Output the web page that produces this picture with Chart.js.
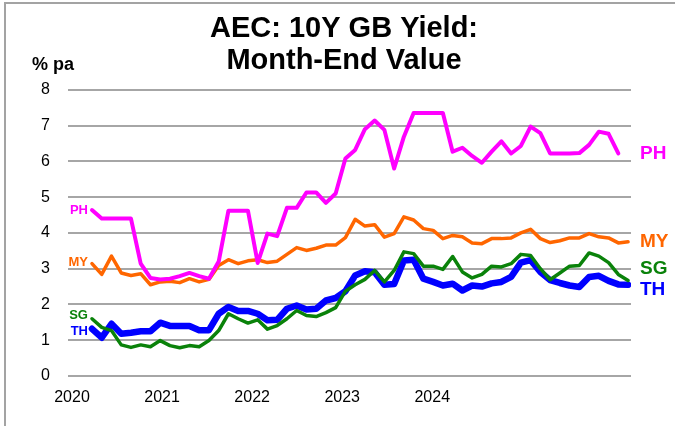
<!DOCTYPE html>
<html lang="en">
<head>
    <meta charset="UTF-8">
    <title>AEC: 10Y GB Yield</title>
    <script src="https://cdn.jsdelivr.net/npm/chart.js@4.4.0/dist/chart.umd.min.js"></script>
    <style>
        html, body {
            margin: 0;
            padding: 0;
            background: #fff;
        }
        .wrap {
            position: relative;
            width: 676px;
            height: 426px;
        }
        .frame {
            position: absolute;
            left: 4px;
            top: 2px;
            width: 669px;
            height: 430px;
            border-left: 2px solid #a3a3a3;
            border-top: 2px solid #a3a3a3;
            pointer-events: none;
        }
    </style>
</head>
<body>
    <div class="wrap">
        <canvas id="yieldChart" width="676" height="426"></canvas>
        <div class="frame"></div>
    </div>

    <script>
        // month-end values, Jan 2020 onwards (PH one month shorter)
        const yearLabels = ["2020", "2021", "2022", "2023", "2024"];

        const ph = [4.64, 4.40, 4.40, 4.40, 4.40, 3.14, 2.74, 2.70, 2.72, 2.79,
                    2.88, 2.79, 2.72, 3.20, 4.62, 4.62, 4.62, 3.16, 3.98, 3.91,
                    4.70, 4.70, 5.13, 5.13, 4.84, 5.10, 6.08, 6.32, 6.90, 7.14,
                    6.88, 5.80, 6.69, 7.35, 7.35, 7.35, 7.35, 6.27, 6.38, 6.15,
                    5.96, 6.27, 6.56, 6.22, 6.43, 6.97, 6.79, 6.22, 6.22, 6.22,
                    6.23, 6.46, 6.83, 6.77, 6.22];
        const my = [3.14, 2.84, 3.35, 2.88, 2.81, 2.86, 2.55, 2.63, 2.65, 2.61,
                    2.72, 2.63, 2.70, 3.09, 3.25, 3.14, 3.22, 3.25, 3.17, 3.21,
                    3.40, 3.59, 3.51, 3.57, 3.66, 3.66, 3.87, 4.38, 4.19, 4.23,
                    3.88, 3.98, 4.45, 4.36, 4.12, 4.07, 3.84, 3.93, 3.89, 3.72,
                    3.70, 3.84, 3.84, 3.86, 4.00, 4.10, 3.84, 3.73, 3.78, 3.86,
                    3.86, 3.98, 3.89, 3.86, 3.72, 3.75];
        const sg = [1.60, 1.36, 1.27, 0.87, 0.80, 0.87, 0.82, 0.99, 0.85, 0.79,
                    0.85, 0.82, 0.99, 1.27, 1.74, 1.60, 1.48, 1.57, 1.31, 1.41,
                    1.60, 1.83, 1.69, 1.66, 1.77, 1.91, 2.37, 2.55, 2.70, 2.95,
                    2.63, 2.95, 3.47, 3.42, 3.07, 3.07, 2.98, 3.34, 2.91, 2.74,
                    2.84, 3.07, 3.05, 3.14, 3.40, 3.37, 3.00, 2.69, 2.88, 3.07,
                    3.09, 3.44, 3.35, 3.17, 2.84, 2.67];
        const th = [1.32, 1.07, 1.46, 1.18, 1.21, 1.25, 1.25, 1.49, 1.40, 1.40,
                    1.40, 1.28, 1.28, 1.74, 1.93, 1.82, 1.82, 1.74, 1.56, 1.57,
                    1.88, 1.97, 1.86, 1.88, 2.11, 2.18, 2.37, 2.81, 2.93, 2.90,
                    2.55, 2.57, 3.23, 3.25, 2.72, 2.63, 2.53, 2.58, 2.39, 2.53,
                    2.50, 2.59, 2.63, 2.77, 3.17, 3.24, 2.91, 2.68, 2.60, 2.53,
                    2.49, 2.77, 2.80, 2.66, 2.56, 2.55];

        // nudges (in % pa) keep the end tags from sitting on top of each other
        const series = [
            { name: "PH", values: ph, color: "#ff00ff", width: 4, leftNudge: 0, rightNudge: 0 },
            { name: "MY", values: my, color: "#ff6600", width: 3.5, leftNudge: 0.03, rightNudge: 0 },
            { name: "SG", values: sg, color: "#0a820a", width: 3.5, leftNudge: 0.08, rightNudge: 0.34 },
            { name: "TH", values: th, color: "#0000ff", width: 6.5, leftNudge: -0.06, rightNudge: -0.14 },
        ];

        const font = "'Liberation Sans', Arial, sans-serif";

        // "% pa" and the small tags at the start of each line
        const startLabels = {
            id: "startLabels",
            afterDatasetsDraw(chart) {
                const ctx = chart.ctx;
                const xs = chart.scales.x;
                const ys = chart.scales.y;
                ctx.save();
                ctx.textBaseline = "middle";

                ctx.fillStyle = "#000";
                ctx.textAlign = "left";
                ctx.font = "bold 18px " + font;
                ctx.fillText("% pa", 32, 65);

                ctx.font = "bold 13px " + font;
                ctx.textAlign = "right";
                series.forEach(s => {
                    ctx.fillStyle = s.color;
                    ctx.fillText(s.name, xs.getPixelForValue(0) - 4,
                        ys.getPixelForValue(s.values[0] + s.leftNudge));
                });
                ctx.restore();
            }
        };

        new Chart(document.getElementById("yieldChart"), {
            type: "line",
            data: {
                datasets: series.map(s => ({
                    label: s.name,
                    data: s.values.map((v, i) => ({ x: i, y: v })),
                    borderColor: s.color,
                    backgroundColor: s.color,
                    borderWidth: s.width,
                    borderJoinStyle: "round",
                    borderCapStyle: "round",
                    pointRadius: 0,
                    tension: 0,
                    fill: false,
                })),
            },
            options: {
                responsive: false,
                animation: false,
                layout: {
                    padding: { left: 12, right: 0, top: 0, bottom: 0 },
                },
                plugins: {
                    legend: { display: false },
                    tooltip: { enabled: false },
                    title: {
                        display: true,
                        text: ["AEC: 10Y GB Yield:", "Month-End Value"],
                        color: "#000",
                        font: { family: font, size: 29, weight: "bold", lineHeight: 1.1 },
                        padding: { top: 13, bottom: 13 },
                    },
                },
                scales: {
                    x: {
                        type: "linear",
                        min: -2.46,
                        max: 55.3,
                        grid: { display: false, drawTicks: false },
                        border: { display: false },
                        afterFit(scale) { scale.height = 50; },
                        afterBuildTicks(scale) {
                            // year labels sit where the original axis put them
                            scale.ticks = yearLabels.map((_, i) => ({ value: -2.05 + i * 9.24 }));
                        },
                        ticks: {
                            autoSkip: false,
                            maxRotation: 0,
                            padding: 12,
                            color: "#000",
                            font: { family: font, size: 16 },
                            callback: (v, i) => yearLabels[i],
                        },
                    },
                    y: {
                        min: 0,
                        max: 8,
                        grid: { color: "#a6a6a6", lineWidth: 2, drawTicks: false },
                        border: { display: false },
                        afterFit(scale) { scale.width = 56; },
                        ticks: {
                            stepSize: 1,
                            padding: 18,
                            color: "#000",
                            font: { family: font, size: 16 },
                        },
                    },
                    // right-hand axis carries the series tags next to the last values
                    tags: {
                        type: "linear",
                        position: "right",
                        min: 0,
                        max: 8,
                        grid: { display: false, drawTicks: false },
                        border: { display: false },
                        afterFit(scale) { scale.width = 45; },
                        afterBuildTicks(scale) {
                            scale.ticks = series.map(s => ({
                                value: s.values[s.values.length - 1] + s.rightNudge,
                            }));
                        },
                        ticks: {
                            autoSkip: false,
                            padding: 9,
                            font: { family: font, size: 19, weight: "bold" },
                            color: (c) => series[c.index].color,
                            callback: (v, i) => series[i].name,
                        },
                    },
                },
            },
            plugins: [startLabels],
        });
    </script>
</body>
</html>
